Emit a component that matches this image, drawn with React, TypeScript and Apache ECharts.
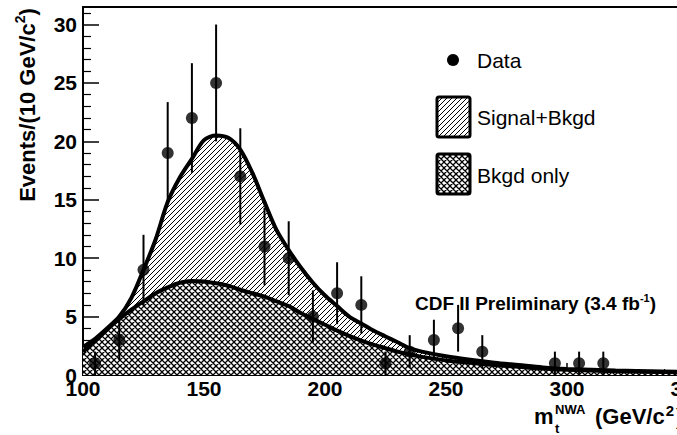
import React, { useEffect, useRef } from "react";
import * as echarts from "echarts";

// Histogram of data (bin centres in GeV/c^2, events per 10 GeV/c^2)
const binCenters = [105, 115, 125, 135, 145, 155, 165, 175, 185, 195, 205, 215, 225, 235, 245, 255, 265, 275, 285, 295, 305, 315, 325, 335, 345];
const counts = [1, 3, 9, 19, 22, 25, 17, 11, 10, 5, 7, 6, 1, 2, 3, 4, 2, 0, 0, 1, 1, 1, 0, 0, 0];
const countErrors = [1, 1.73, 3, 4.36, 4.69, 5, 4.12, 3.32, 3.16, 2.24, 2.65, 2.45, 1, 1.41, 1.73, 2, 1.41, 0, 0, 1, 1, 1, 0, 0, 0];

// Fitted templates
const curveMass = [100, 105, 110, 115, 120, 125, 130, 135, 140, 145, 150, 155, 160, 165, 170, 175, 180, 185, 190, 195, 200, 205, 210, 215, 220, 225, 230, 235, 240, 250, 260, 270, 280, 290, 300, 320, 350];
const signalPlusBkgd = [2.4, 3.1, 4.0, 5.0, 6.6, 9.0, 11.6, 14.8, 16.9, 18.5, 20.1, 20.5, 20.3, 19.3, 17.3, 14.8, 12.4, 10.7, 9.2, 7.9, 6.8, 5.9, 5.0, 4.4, 3.8, 3.3, 2.8, 2.3, 2.0, 1.6, 1.3, 1.05, 0.85, 0.65, 0.52, 0.38, 0.25];
const bkgdOnly = [2.0, 2.9, 3.9, 4.8, 5.6, 6.3, 7.0, 7.5, 7.9, 8.05, 8.0, 7.85, 7.65, 7.3, 7.0, 6.7, 6.3, 5.9, 5.3, 4.8, 4.3, 3.8, 3.35, 2.95, 2.6, 2.3, 2.0, 1.75, 1.55, 1.25, 1.05, 0.85, 0.7, 0.55, 0.45, 0.33, 0.23];

const xMin = 100;
const xMax = 350;
const xInterval = 50;
const yMin = 0;
const yMax = 31.5;
const yInterval = 5;

const legendLabels = ["Data", "Signal+Bkgd", "Bkgd only"];

const FONT = "Liberation Sans, Arial, Helvetica, sans-serif";

function svgTile(w: number, h: number, d: string, sw: number) {
  const svg = `<svg xmlns='http://www.w3.org/2000/svg' width='${w}' height='${h}'><rect width='${w}' height='${h}' fill='white'/><path d='${d}' stroke='black' stroke-width='${sw}' fill='none'/></svg>`;
  return "data:image/svg+xml;charset=utf-8," + encodeURIComponent(svg);
}

const diagPattern: any = {
  image: svgTile(5, 5, "M-1,1 L1,-1 M0,5 L5,0 M4,6 L6,4", 1),
  repeat: "repeat",
  imageWidth: 5,
  imageHeight: 5,
};
const crossPattern: any = {
  image: svgTile(6, 6, "M0,6 L6,0 M-1,1 L1,-1 M5,7 L7,5 M0,0 L6,6 M-1,5 L1,7 M5,-1 L7,1", 1.3),
  repeat: "repeat",
  imageWidth: 6,
  imageHeight: 6,
};

export default function App() {
  const ref = useRef<HTMLDivElement>(null);

  useEffect(() => {
    if (!ref.current) return;
    const chart = echarts.init(ref.current, null, { renderer: "svg" });

    const upper = curveMass.map((m, i) => [m, signalPlusBkgd[i]]);
    const lower = curveMass.map((m, i) => [m, bkgdOnly[i]]);
    const points = binCenters
      .map((m, i) => [m, counts[i], countErrors[i]])
      .filter((p) => p[1] > 0);

    const axisLabelStyle = {
      color: "#000",
      fontSize: 21,
      fontWeight: "bold" as const,
      fontFamily: FONT,
    };

    const option: any = {
      animation: false,
      backgroundColor: "#fff",
      grid: {
        left: 83,
        right: -11,
        top: 7,
        bottom: 60,
        outerBoundsMode: "none",
        containLabel: false,
        show: true,
        borderColor: "#000",
        borderWidth: 2,
        backgroundColor: "transparent",
      },
      xAxis: {
        type: "value",
        min: xMin,
        max: xMax,
        interval: xInterval,
        axisLine: { show: true, onZero: false, lineStyle: { color: "#000", width: 2 } },
        axisTick: { show: true, inside: true, length: 12, lineStyle: { color: "#000", width: 1.5 } },
        minorTick: { show: true, splitNumber: 5, length: 6, lineStyle: { color: "#000", width: 1 } },
        splitLine: { show: false },
        axisLabel: { ...axisLabelStyle, margin: 3 },
      },
      yAxis: {
        type: "value",
        min: yMin,
        max: yMax,
        interval: yInterval,
        axisLine: { show: true, lineStyle: { color: "#000", width: 2 } },
        axisTick: { show: true, inside: true, length: 16, lineStyle: { color: "#000", width: 1.5 } },
        minorTick: { show: true, splitNumber: 5, length: 8, lineStyle: { color: "#000", width: 1.2 } },
        splitLine: { show: false },
        axisLabel: { ...axisLabelStyle, margin: 6, showMaxLabel: false },
      },
      series: [
        {
          name: legendLabels[1] + " area",
          type: "line",
          data: upper,
          smooth: 0.3,
          showSymbol: false,
          lineStyle: { width: 0 },
          areaStyle: { color: diagPattern, opacity: 1 },
          z: 1,
        },
        {
          name: legendLabels[2] + " area",
          type: "line",
          data: lower,
          smooth: 0.3,
          showSymbol: false,
          lineStyle: { width: 0 },
          areaStyle: { color: crossPattern, opacity: 1 },
          z: 2,
        },
        {
          name: legendLabels[1],
          type: "line",
          data: upper,
          smooth: 0.3,
          showSymbol: false,
          lineStyle: { width: 4, color: "#000" },
          z: 3,
        },
        {
          name: legendLabels[2],
          type: "line",
          data: lower,
          smooth: 0.3,
          showSymbol: false,
          lineStyle: { width: 4, color: "#000" },
          z: 3,
        },
        {
          name: "errors",
          type: "custom",
          data: points,
          z: 4,
          renderItem: (params: any, api: any) => {
            const x = api.value(0);
            const y = api.value(1);
            const e = api.value(2);
            const top = api.coord([x, y + e]);
            const bot = api.coord([x, Math.max(0, y - e)]);
            return {
              type: "line",
              shape: { x1: top[0], y1: top[1], x2: bot[0], y2: bot[1] },
              style: { stroke: "#000", lineWidth: 2 },
            };
          },
        },
        {
          name: legendLabels[0],
          type: "scatter",
          data: points.map((p) => [p[0], p[1]]),
          symbol: "circle",
          symbolSize: 12,
          itemStyle: { color: "#000" },
          z: 5,
        },
      ],
      graphic: [
        // Legend
        { type: "circle", shape: { cx: 453, cy: 60, r: 6 }, style: { fill: "#000" }, z: 10 },
        {
          type: "text", x: 477, y: 60, z: 10,
          style: { text: legendLabels[0], fill: "#000", font: `21px ${FONT}`, verticalAlign: "middle" },
        },
        {
          type: "rect", shape: { x: 437, y: 97, width: 33, height: 40, r: 2 }, z: 10,
          style: { fill: diagPattern, stroke: "#000", lineWidth: 3 },
        },
        {
          type: "text", x: 477, y: 117, z: 10,
          style: { text: legendLabels[1], fill: "#000", font: `21px ${FONT}`, verticalAlign: "middle" },
        },
        {
          type: "rect", shape: { x: 437, y: 154, width: 33, height: 40, r: 2 }, z: 10,
          style: { fill: crossPattern, stroke: "#000", lineWidth: 3 },
        },
        {
          type: "text", x: 477, y: 175, z: 10,
          style: { text: legendLabels[2], fill: "#000", font: `21px ${FONT}`, verticalAlign: "middle" },
        },
        // CDF label
        {
          type: "text", x: 415, y: 303, z: 10,
          style: {
            text: "{b|CDF II Preliminary (3.4 fb}{s|-1}{b|)}",
            verticalAlign: "middle",
            rich: {
              b: { fontSize: 19, fontWeight: "bold", fontFamily: FONT, fill: "#000", lineHeight: 22 },
              s: { fontSize: 11, fontWeight: "bold", fontFamily: FONT, fill: "#000", lineHeight: 11, verticalAlign: "top" },
            },
          },
        },
        // Y axis title
        {
          type: "text", x: 27, y: 105, rotation: Math.PI / 2, z: 10,
          style: {
            text: "{a|Events/(10 GeV/c}{s|2}{a|)}",
            align: "center",
            verticalAlign: "middle",
            rich: {
              a: { fontSize: 22, fontWeight: "bold", fontFamily: FONT, fill: "#000", lineHeight: 28 },
              s: { fontSize: 14, fontWeight: "bold", fontFamily: FONT, fill: "#000", lineHeight: 14, verticalAlign: "top" },
            },
          },
        },
        // X axis title
        {
          type: "text", x: 534, y: 416, z: 10,
          style: { text: "m", fill: "#000", font: `bold 22px ${FONT}`, verticalAlign: "middle" },
        },
        {
          type: "text", x: 555, y: 409, z: 10,
          style: { text: "NWA", fill: "#000", font: `bold 13px ${FONT}`, verticalAlign: "middle" },
        },
        {
          type: "text", x: 555, y: 428, z: 10,
          style: { text: "t", fill: "#000", font: `bold 13px ${FONT}`, verticalAlign: "middle" },
        },
        {
          type: "text", x: 595, y: 416, z: 10,
          style: {
            text: "{a|(GeV/c}{s|2}{a|)}",
            verticalAlign: "middle",
            rich: {
              a: { fontSize: 22, fontWeight: "bold", fontFamily: FONT, fill: "#000", lineHeight: 26 },
              s: { fontSize: 15, fontWeight: "bold", fontFamily: FONT, fill: "#000", lineHeight: 15, verticalAlign: "top", padding: [0, 2, 0, 1] },
            },
          },
        },
      ],
    };

    chart.setOption(option);
    return () => chart.dispose();
  }, []);

  return (
    <div
      ref={ref}
      style={{ position: "fixed", left: 0, top: 0, width: 677, height: 435, background: "#fff" }}
    />
  );
}
